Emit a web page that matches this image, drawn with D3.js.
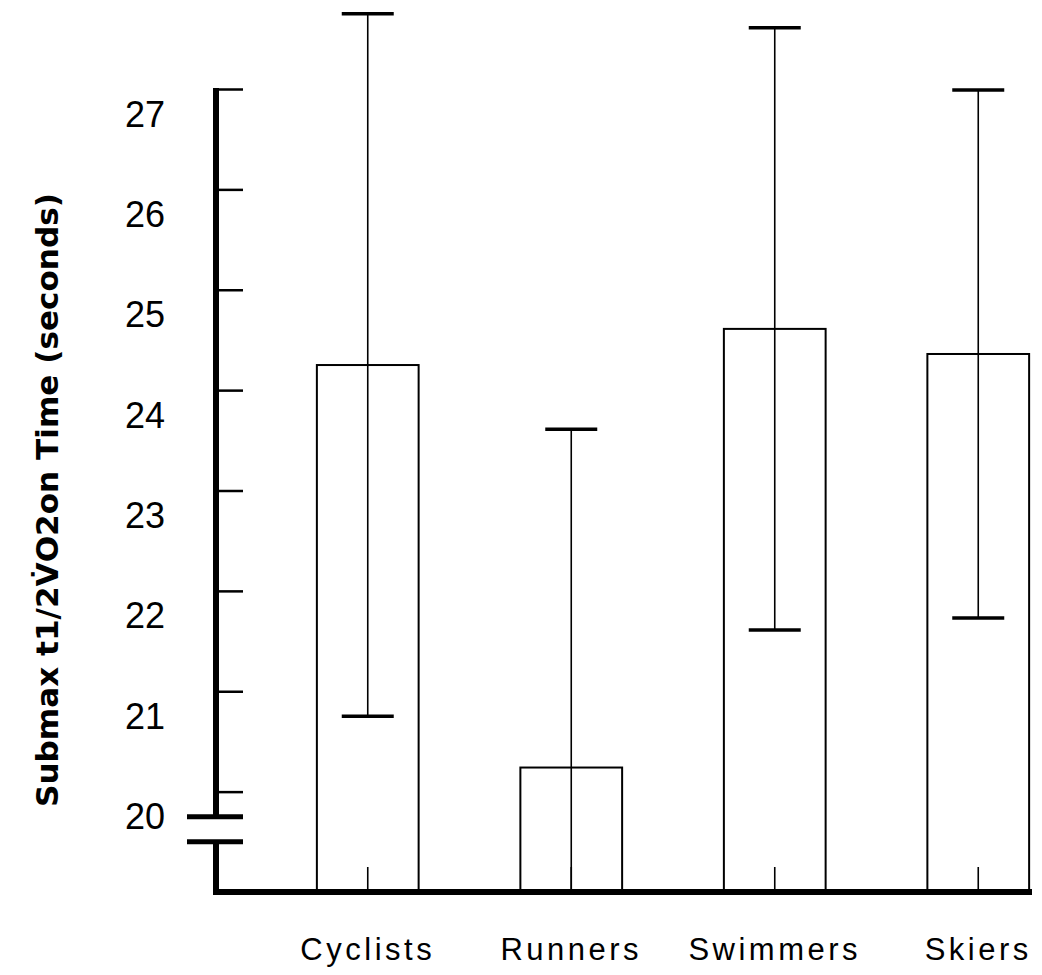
<!DOCTYPE html>
<html>
<head>
<meta charset="utf-8">
<script src="https://cdn.jsdelivr.net/npm/d3@7"></script>
<style>
  body { margin: 0; background: #fff; }
  svg { display: block; }
  .bar { fill: #fff; stroke: #000; stroke-width: 2; }
  .whisker { stroke: #000; stroke-width: 1.6; }
  .cap { stroke: #000; stroke-width: 3.5; }
  .axisline { stroke: #000; stroke-width: 6; fill: none; }
  .tick text { font-family: "Liberation Sans", Arial, sans-serif; fill: #000; }
</style>
</head>
<body>
<div id="chart"></div>
<script>
// data
var categories = ["Cyclists", "Runners", "Swimmers", "Skiers"];
var means = [24.25, 20.24, 24.61, 24.36];
var sds = [3.5, 3.37, 3.0, 2.63];
var yTicks = [20, 21, 22, 23, 24, 25, 26, 27];
var breakValues = [19.75, 19.5];
var yTitle = "Submax t1/2V\u0307O2on Time (seconds)";

var width = 1042,
    height = 975;

var y = d3.scaleLinear().domain([19, 27]).range([892, 89]);
var x = d3.scaleBand()
    .domain(categories)
    .range([266, 1080])
    .paddingInner(0.5)
    .paddingOuter(0.25);

var axisX = 216;

var svg = d3.select("#chart")
    .append("svg")
    .attr("width", width)
    .attr("height", height);

var data = categories.map(function (c, i) {
    return { name: c, mean: means[i], sd: sds[i] };
});

// bars
svg.selectAll("rect.bar")
    .data(data)
    .enter()
    .append("rect")
    .attr("class", "bar")
    .attr("x", function (d) { return x(d.name); })
    .attr("y", function (d) { return y(d.mean); })
    .attr("width", x.bandwidth())
    .attr("height", function (d) { return y(19) - y(d.mean); });

// error bars (clipped at the bottom of the axis)
var lo = function (d) { return Math.max(d.mean - d.sd, 19); };
var hi = function (d) { return d.mean + d.sd; };
var cx = function (d) { return x(d.name) + x.bandwidth() / 2; };
var capHalf = 26;

var eb = svg.selectAll("g.err")
    .data(data)
    .enter()
    .append("g")
    .attr("class", "err");

eb.append("line")
    .attr("class", "whisker")
    .attr("x1", cx).attr("x2", cx)
    .attr("y1", function (d) { return y(hi(d)); })
    .attr("y2", function (d) { return y(lo(d)); });

eb.append("line")
    .attr("class", "cap")
    .attr("x1", function (d) { return cx(d) - capHalf; })
    .attr("x2", function (d) { return cx(d) + capHalf; })
    .attr("y1", function (d) { return y(hi(d)); })
    .attr("y2", function (d) { return y(hi(d)); });

eb.filter(function (d) { return d.mean - d.sd > 19; })
    .append("line")
    .attr("class", "cap")
    .attr("x1", function (d) { return cx(d) - capHalf; })
    .attr("x2", function (d) { return cx(d) + capHalf; })
    .attr("y1", function (d) { return y(lo(d)); })
    .attr("y2", function (d) { return y(lo(d)); });

// y axis
var gy = svg.append("g")
    .attr("transform", "translate(" + axisX + ",0)")
    .call(d3.axisLeft(y).tickValues(yTicks).tickSize(-27).tickPadding(51));
gy.select(".domain").remove();
gy.selectAll(".tick line").attr("stroke", "#000").attr("stroke-width", 2.5);
gy.selectAll(".tick text")
    .attr("font-size", 36)
    .attr("dy", 37);

// y axis line with a break
svg.append("line")
    .attr("class", "axisline")
    .attr("x1", axisX).attr("x2", axisX)
    .attr("y1", y(27) - 1).attr("y2", y(breakValues[0]));
svg.append("line")
    .attr("class", "axisline")
    .attr("x1", axisX).attr("x2", axisX)
    .attr("y1", y(breakValues[1])).attr("y2", y(19));
svg.selectAll("line.brk")
    .data(breakValues)
    .enter()
    .append("line")
    .attr("class", "brk")
    .attr("stroke", "#000")
    .attr("stroke-width", 5)
    .attr("x1", axisX - 29).attr("x2", axisX + 27)
    .attr("y1", function (d) { return y(d); })
    .attr("y2", function (d) { return y(d); });

// x axis
var gx = svg.append("g")
    .attr("transform", "translate(0," + y(19) + ")")
    .call(d3.axisBottom(x).tickSize(-25).tickPadding(0));
gx.select(".domain").remove();
gx.selectAll(".tick line").attr("stroke", "#000").attr("stroke-width", 1.6);
gx.selectAll(".tick text")
    .attr("font-family", "'DejaVu Sans', sans-serif")
    .attr("font-size", 31)
    .attr("letter-spacing", 3.5)
    .attr("y", 68)
    .attr("dy", 0);

svg.append("line")
    .attr("class", "axisline")
    .attr("x1", axisX - 3).attr("x2", 1032)
    .attr("y1", y(19)).attr("y2", y(19));

// y title
svg.append("text")
    .attr("transform", "translate(58,500) rotate(-90)")
    .attr("text-anchor", "middle")
    .attr("font-family", "'DejaVu Sans Condensed', 'DejaVu Sans', sans-serif")
    .attr("font-weight", "bold")
    .attr("font-size", 30)
    .attr("textLength", 614)
    .attr("lengthAdjust", "spacingAndGlyphs")
    .text(yTitle);
</script>
</body>
</html>
